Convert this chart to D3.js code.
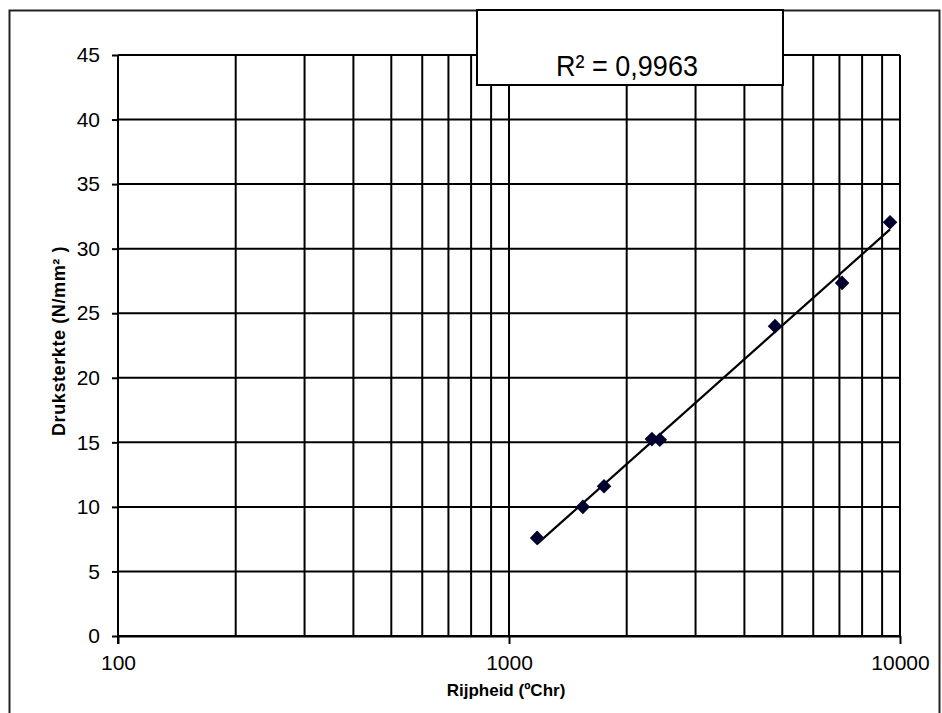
<!DOCTYPE html>
<html>
<head>
<meta charset="utf-8">
<script src="https://cdn.jsdelivr.net/npm/d3@7"></script>
<style>
  body { margin: 0; background: #fff; }
  svg { display: block; font-family: "Liberation Sans", Arial, sans-serif; }
</style>
</head>
<body>
<svg id="chart" width="942" height="713"></svg>
<script>
// data
const rijpheid = [1180, 1545, 1750, 2320, 2430, 4790, 7110, 9430];
const druksterkte = [7.6, 10.0, 11.6, 15.25, 15.2, 24.0, 27.35, 32.05];
const yTicks = [0, 5, 10, 15, 20, 25, 30, 35, 40, 45];
const xTicks = [100, 1000, 10000];
const xGrid = [200, 300, 400, 500, 600, 700, 800, 900, 1000,
  2000, 3000, 4000, 5000, 6000, 7000, 8000, 9000, 10000];
const rSquared = 'R² = 0,9963';

const svg = d3.select('#chart');
const margin = { left: 118, top: 55, right: 42, bottom: 77 };
const width = 942 - margin.left - margin.right;
const height = 713 - margin.top - margin.bottom;

// outer frame
svg.append('rect')
  .attr('x', 9.5).attr('y', 10.5)
  .attr('width', 930).attr('height', 720)
  .attr('fill', 'none').attr('stroke', '#222').attr('stroke-width', 2);

const g = svg.append('g').attr('transform', `translate(${margin.left},${margin.top})`);

const x = d3.scaleLog().domain([100, 10000]).range([0, width]);
const y = d3.scaleLinear().domain([0, 45]).range([height, 0]);

// grid
g.append('g').selectAll('line').data(yTicks).join('line')
  .attr('x1', 0).attr('x2', width)
  .attr('y1', d => y(d)).attr('y2', d => y(d))
  .attr('stroke', '#000').attr('stroke-width', 2);
g.append('g').selectAll('line').data(xGrid).join('line')
  .attr('x1', d => x(d)).attr('x2', d => x(d))
  .attr('y1', 0).attr('y2', height)
  .attr('stroke', '#000').attr('stroke-width', 2);

// axes
const yAxis = g.append('g')
  .call(d3.axisLeft(y).tickValues(yTicks).tickSize(6).tickSizeOuter(0).tickPadding(12));
const xAxis = g.append('g')
  .attr('transform', `translate(0,${height})`)
  .call(d3.axisBottom(x).tickValues(xTicks).tickFormat(d3.format('d'))
    .tickSize(8).tickSizeOuter(0).tickPadding(11));
[yAxis, xAxis].forEach(a => {
  a.select('.domain').attr('stroke', '#000').attr('stroke-width', 2);
  a.selectAll('.tick line').attr('stroke', '#000').attr('stroke-width', 2);
  a.selectAll('.tick text').attr('fill', '#000')
    .style('font-size', '21px').style('font-family', '"Liberation Sans", Arial, sans-serif');
});
yAxis.select('.domain').attr('d', `M0,0V${height + 8}`);

// logarithmic trend line, least squares on log10(x)
const L = rijpheid.map(v => Math.log10(v));
const mL = d3.mean(L), mY = d3.mean(druksterkte);
const slope = d3.sum(L, (l, i) => (l - mL) * (druksterkte[i] - mY)) /
  d3.sum(L, l => (l - mL) ** 2);
const icpt = mY - slope * mL;
const ends = d3.extent(rijpheid);
g.append('path')
  .datum(ends)
  .attr('d', d3.line().x(d => x(d)).y(d => y(icpt + slope * Math.log10(d))))
  .attr('fill', 'none').attr('stroke', '#000').attr('stroke-width', 2.2);

// markers
g.append('g').selectAll('path').data(rijpheid).join('path')
  .attr('transform', (d, i) => `translate(${x(d)},${y(druksterkte[i])})`)
  .attr('d', d3.symbol().type(d3.symbolDiamond2).size(135))
  .attr('fill', '#00002e');

// axis titles
svg.append('text')
  .attr('x', 506).attr('y', 696)
  .attr('text-anchor', 'middle')
  .style('font-size', '17px').style('font-weight', 'bold')
  .text('Rijpheid (ºChr)');
svg.append('text')
  .attr('transform', 'translate(65,341) rotate(-90)')
  .attr('text-anchor', 'middle')
  .style('font-size', '18px').style('font-weight', 'bold')
  .style('letter-spacing', '0.6px')
  .text('Druksterkte  (N/mm² )');

// R² box
svg.append('rect')
  .attr('x', 477).attr('y', 10)
  .attr('width', 306).attr('height', 75)
  .attr('fill', '#fff').attr('stroke', '#000').attr('stroke-width', 2);
svg.append('text')
  .attr('transform', 'translate(627,76) scale(1,1.12)')
  .attr('text-anchor', 'middle')
  .style('font-size', '27px')
  .text(rSquared);
</script>
</body>
</html>
